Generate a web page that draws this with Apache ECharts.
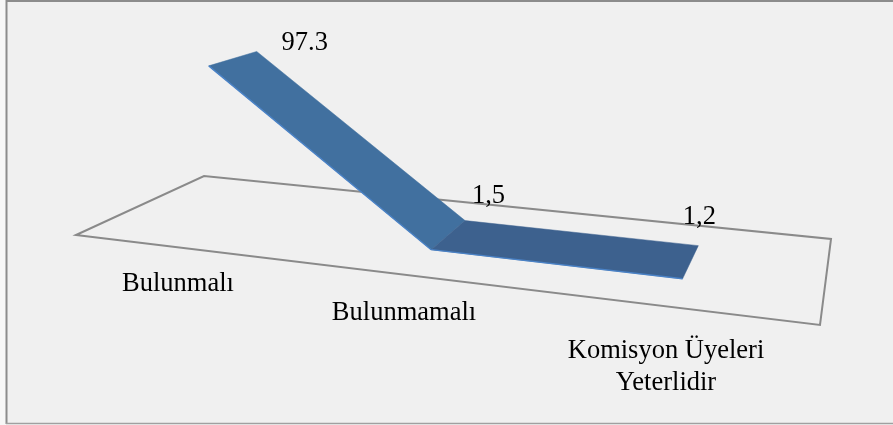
<!DOCTYPE html>
<html><head><meta charset="utf-8">
<style>html,body{margin:0;padding:0;background:#f6f6f6}#c{width:893px;height:425px}</style>
<script src="https://cdn.jsdelivr.net/npm/echarts@6/dist/echarts.min.js"></script>
</head><body><div id="c"></div>
<script>
const categories = ['Bulunmalı', 'Bulunmamalı', 'Komisyon Üyeleri\nYeterlidir'];
const values = [97.3, 1.5, 1.2];
const valueLabels = ['97.3', '1,5', '1,2'];

// Perspective of the 3D floor: (u along categories, v into depth) to pixels
const H = {a:600.5,b:166.7,c:76,d:33.1,e:-25.6,f:235,g:-0.175,h:0.18966};
const GRID = {left:0, width:893, top:100, height:171};
const RIBBON_FRONT = 0.31, RIBBON_BACK = 0.73;
const FLOOR_SINK = 2.5;
const FONT = '"Liberation Serif","Times New Roman",serif';
const FONT_SIZE = 26.5;
const catLabelPos = [[178,284],[404,313],[666,367]];
const valLabelOffset = [[48,-8],[23.5,-25],[1,-29]];
function floorU(px){return px/GRID.width*1.02-0.0235;}
function proj(u,v,lift){
  const w=H.g*u+H.h*v+1;
  return [(H.a*u+H.b*v+H.c)/w,(H.d*u+H.e*v+H.f-lift)/w];
}
function point(api,i,v){
  const p=api.coord([i,values[i]]);
  const base=GRID.top+GRID.height;
  return proj(floorU(p[0]),v,base-p[1]-FLOOR_SINK);
}
const segColors=['#41709f','#3d618e'];
const option={
  animation:false,
  backgroundColor:'#f0f0f0',
  grid:{left:GRID.left,width:GRID.width,top:GRID.top,height:GRID.height},
  xAxis:{type:'category',data:categories,show:false},
  yAxis:{type:'value',min:0,max:100,show:false},
  series:[
  {type:'custom',coordinateSystem:'cartesian2d',z:2,silent:true,
   data:[0],
   renderItem(){return {type:'group',children:[
     {type:'rect',shape:{x:0,y:0,width:6,height:425},style:{fill:'#f7f7f7'}},
     {type:'rect',shape:{x:0,y:424,width:893,height:1},style:{fill:'#f7f7f7'}},
     {type:'polyline',shape:{points:[[6.5,424],[6.5,1],[893,1]]},style:{fill:null,stroke:'#8c8c8c',lineWidth:2}},
     {type:'line',shape:{x1:6,y1:423.5,x2:893,y2:423.5},style:{stroke:'#a0a0a0',lineWidth:1.5}},
     {type:'polygon',shape:{points:[proj(0,0,0),proj(1,0,0),proj(1,1,0),proj(0,1,0)]},
      style:{fill:null,stroke:'#8a8a8a',lineWidth:2}}
   ]};}
  },
  {type:'custom',coordinateSystem:'cartesian2d',z:3,silent:true,
   data:values.map((v,i)=>[i,v]),
   renderItem(params,api){
     const i=params.dataIndex, kids=[];
     if(i<values.length-1){
       const a=point(api,i,RIBBON_FRONT),b=point(api,i,RIBBON_BACK),c=point(api,i+1,RIBBON_BACK),d=point(api,i+1,RIBBON_FRONT);
       kids.push({type:'polygon',shape:{points:[a,b,c,d]},style:{fill:segColors[i],stroke:segColors[i],lineWidth:.5}});
       kids.push({type:'line',shape:{x1:a[0],y1:a[1],x2:d[0],y2:d[1]},style:{stroke:'#4a82c6',lineWidth:1.4}});
     }
     return {type:'group',children:kids};
   }
  },
  {type:'custom',coordinateSystem:'cartesian2d',z:4,silent:true,
   data:values.map((v,i)=>[i,v]),
   renderItem(params,api){
     const i=params.dataIndex;
     const b=point(api,i,RIBBON_BACK);
     return {type:'group',children:[
      {type:'text',x:b[0]+valLabelOffset[i][0],y:b[1]+valLabelOffset[i][1],
       style:{text:valueLabels[i],font:FONT_SIZE+'px '+FONT,fill:'#000',textAlign:'center',textVerticalAlign:'middle'}},
      {type:'text',x:catLabelPos[i][0],y:catLabelPos[i][1],
       style:{text:categories[i],font:FONT_SIZE+'px '+FONT,fill:'#000',textAlign:'center',textVerticalAlign:'middle',lineHeight:32}}
     ]};
   }
  }]
};
echarts.init(document.getElementById('c'),null,{renderer:'canvas'}).setOption(option);
</script></body></html>
